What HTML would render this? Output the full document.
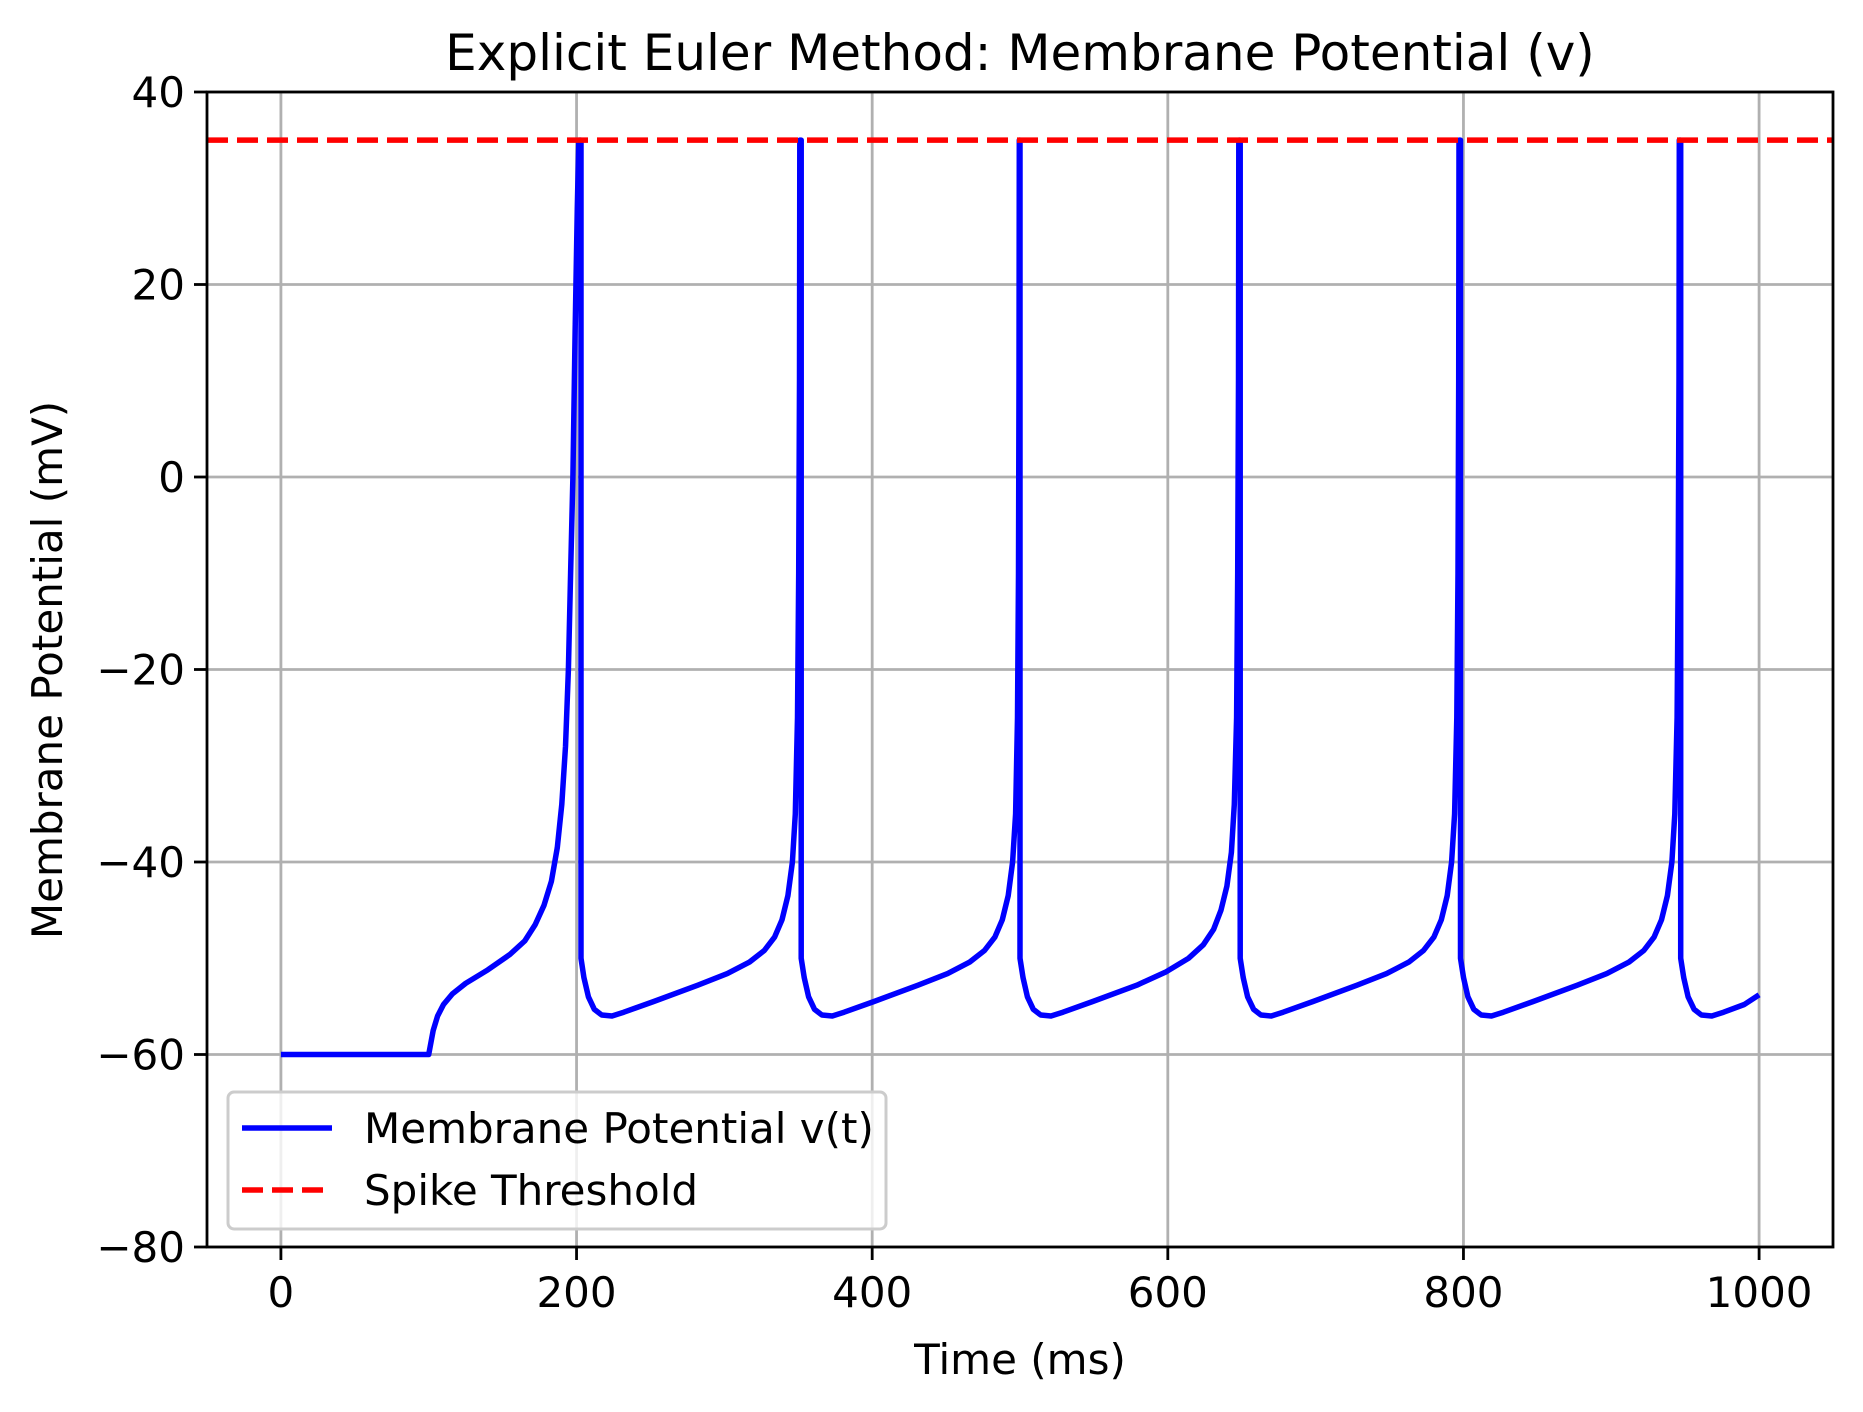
<!DOCTYPE html>
<html><head><meta charset="utf-8"><style>
body{margin:0;background:#fff}
svg text{font-family:"DejaVu Sans","Liberation Sans",sans-serif;fill:#000}
</style></head><body>
<svg id="chart" width="1863" height="1407" viewBox="0 0 1863 1407" xmlns="http://www.w3.org/2000/svg">
<rect width="1863" height="1407" fill="#fff"/>
<g id="grid"></g>
<g id="series"></g>
<g id="axes"></g>
<text x="1020" y="70" font-size="50" text-anchor="middle">Explicit Euler Method: Membrane Potential (v)</text>
<text x="1020" y="1374" font-size="42" text-anchor="middle">Time (ms)</text>
<text x="0" y="0" font-size="42" text-anchor="middle" transform="translate(62,670) rotate(-90)">Membrane Potential (mV)</text>
<g>
<rect x="228" y="1092" width="658" height="137" rx="6" fill="#fff" fill-opacity="0.8" stroke="#ccc" stroke-width="3"/>
<line x1="242" y1="1128" x2="332" y2="1128" stroke="#0000ff" stroke-width="5.5"/>
<text x="364" y="1143" font-size="42">Membrane Potential v(t)</text>
<line x1="242" y1="1190" x2="332" y2="1190" stroke="#ff0000" stroke-width="5.5" stroke-dasharray="21,9"/>
<text x="364" y="1205" font-size="42">Spike Threshold</text>
</g>
</svg>
<script>
const xTicks=[0,200,400,600,800,1000];
const yTicks=[-80,-60,-40,-20,0,20,40];
const threshold=35;
const times=[0,100,103,106,110,116,125,140,155,165,172,178,183,187,190,192.5,194.5,196,197.5,199,200.5,201.5,202,203,
203,205,208,212,217,224,232,252,282,302,317,327,334,339,343,346,348,349.5,350.3,350.8,351,352,
352,354,357,361,366,373,381,401,431,451,466,476,483,488,492,495,497,498.3,499,499.3,499.5,500,
500,502,505,509,514,521,529,549,579,599,614,624,631,636,640,643,645,646.5,647.3,647.8,648,649,
649,651,654,658,663,670,678,698,728,748,763,773,780,785,789,792,794,795.5,796.3,796.8,797,798,
798,800,803,807,812,819,827,847,877,897,912,922,929,934,938,941,943,944.5,945.3,945.8,946,947,
947,949,952,956,961,968,976,990,1000];
const volts=[-60,-60,-57.5,-56,-54.8,-53.7,-52.6,-51.2,-49.6,-48.2,-46.5,-44.5,-42,-38.5,-34,-28,-20,-10,0,15,28,35,35,35,
-50,-52,-54,-55.3,-55.9,-56,-55.6,-54.5,-52.8,-51.6,-50.4,-49.2,-47.8,-46,-43.5,-40,-35,-25,-10,10,35,35,
-50,-52,-54,-55.3,-55.9,-56,-55.6,-54.5,-52.8,-51.6,-50.4,-49.2,-47.8,-46,-43.5,-40,-35,-25,-10,10,35,35,
-50,-52,-54,-55.3,-55.9,-56,-55.6,-54.5,-52.8,-51.4,-50,-48.6,-47,-45,-42.5,-39,-34,-25,-10,10,35,35,
-50,-52,-54,-55.3,-55.9,-56,-55.6,-54.5,-52.8,-51.6,-50.4,-49.2,-47.8,-46,-43.5,-40,-35,-25,-10,10,35,35,
-50,-52,-54,-55.3,-55.9,-56,-55.6,-54.5,-52.8,-51.6,-50.4,-49.2,-47.8,-46,-43.5,-40,-35,-25,-10,10,35,35,
-50,-52,-54,-55.3,-55.9,-56,-55.6,-54.8,-53.8];
const L=207,R=1833,T=92,B=1247,xMin=-50,xMax=1050,yMin=-80,yMax=40;
const sx=v=>L+(v-xMin)/(xMax-xMin)*(R-L);
const sy=v=>B-(v-yMin)/(yMax-yMin)*(B-T);
const NS='http://www.w3.org/2000/svg';
function mk(tag,attrs,parent){const e=document.createElementNS(NS,tag);for(const k in attrs)e.setAttribute(k,attrs[k]);document.getElementById(parent).appendChild(e);return e;}
xTicks.forEach(t=>{
  const g=mk('line',{x1:sx(t),x2:sx(t),y1:T,y2:B,stroke:'#b0b0b0','stroke-width':2.8},'grid');
  
  
  const k=mk('line',{x1:sx(t),x2:sx(t),y1:B,y2:B+13,stroke:'#000','stroke-width':2.8},'axes');
  
  
  const l=mk('text',{x:sx(t),y:B+60,'font-size':42,'text-anchor':'middle'},'axes');
  l.textContent=String(t);
  
  
});
yTicks.forEach(t=>{
  const g=mk('line',{x1:L,x2:R,y1:sy(t),y2:sy(t),stroke:'#b0b0b0','stroke-width':2.8},'grid');
  
  
  const k=mk('line',{x1:L-13,x2:L,y1:sy(t),y2:sy(t),stroke:'#000','stroke-width':2.8},'axes');
  
  
  const l=mk('text',{x:L-22,y:sy(t)+15,'font-size':42,'text-anchor':'end'},'axes');
  l.textContent=t<0?'\u2212'+Math.abs(t):String(t);
  
  
});
const d=times.map((t,i)=>(i?'L':'M')+sx(t).toFixed(1)+','+sy(volts[i]).toFixed(1)).join('');
const p=mk('path',{d:d,fill:'none',stroke:'#0000ff','stroke-width':5.5,'stroke-linejoin':'round'},'series');


const th=mk('line',{x1:L,x2:R,y1:sy(threshold),y2:sy(threshold),stroke:'#ff0000','stroke-width':5.5,'stroke-dasharray':'21,9'},'series');


const fr=mk('rect',{x:L,y:T,width:R-L,height:B-T,fill:'none',stroke:'#000','stroke-width':2.8},'axes');


</script>
</body></html>
